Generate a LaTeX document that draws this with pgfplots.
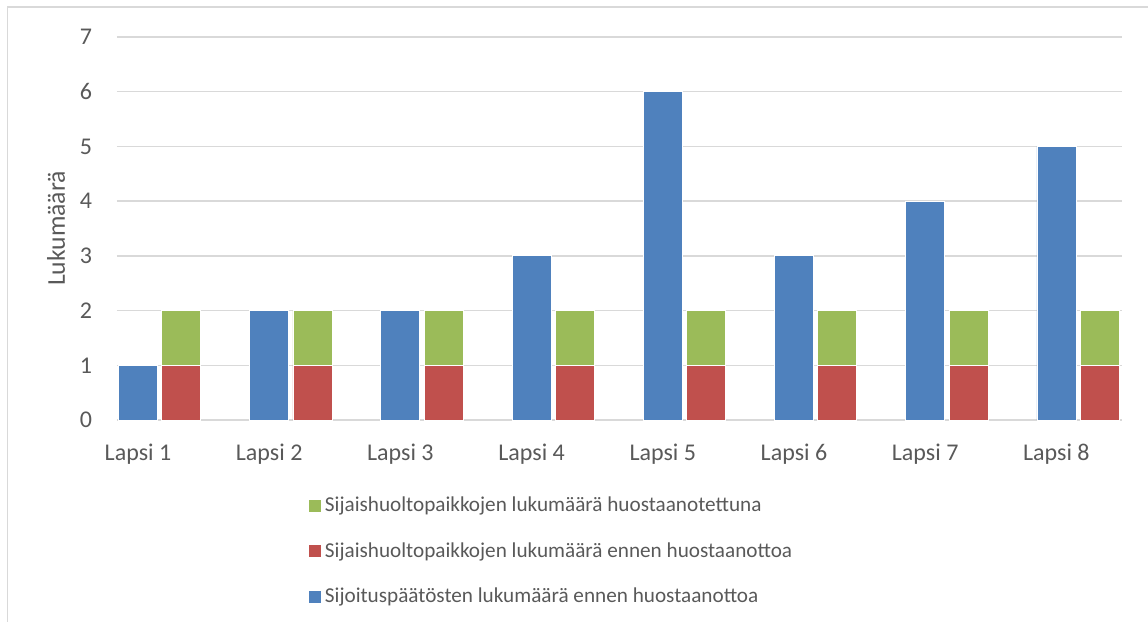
\documentclass[border=0pt]{standalone}
\usepackage{fontspec}
\setmainfont{Carlito}
\usepackage{pgfplots}
\pgfplotsset{compat=1.18}
\definecolor{sBlue}{HTML}{4F81BD}
\definecolor{sRed}{HTML}{C0504D}
\definecolor{sGreen}{HTML}{9BBB59}
\definecolor{txt}{HTML}{595959}
\definecolor{gridc}{HTML}{D9D9D9}

\pgfplotsset{
  base/.style={
    scale only axis, width=502.5pt, height=191.5pt,
    xmin=-0.16, xmax=7.5, ymin=0, ymax=7,
    bar width=19.5pt,
    axis line style={draw=none}, major tick length=0pt,
  },
}

\begin{document}
\begin{tikzpicture}
\path[use as bounding box] (-58.5pt,-101pt) rectangle (515.5pt,210pt);
\draw[gridc, line width=0.6pt] (-54.75pt,-101pt) -- (-54.75pt,206.5pt) -- (515.5pt,206.5pt);

% blue series, with grid and tick labels
\begin{axis}[base, ybar,
  ytick={0,1,...,7}, ymajorgrids, grid style={gridc, line width=0.7pt},
  xtick={0,...,7},
  xticklabels={Lapsi 1,Lapsi 2,Lapsi 3,Lapsi 4,Lapsi 5,Lapsi 6,Lapsi 7,Lapsi 8},
  /pgf/number format/assume math mode=true,
  tick label style={font=\fontsize{12}{14}\selectfont, text=txt},
  yticklabel style={xshift=-9pt},
  xticklabel style={yshift=-8.5pt},
  ylabel={Lukumäärä}, ylabel style={font=\fontsize{12.8}{15}\selectfont, text=txt, yshift=0.5pt},
]
\addplot[fill=sBlue, draw=white, line width=0.4pt, bar shift=0pt]
  coordinates {(0,1) (1,2) (2,2) (3,3) (4,6) (5,3) (6,4) (7,5)};
\end{axis}

% red + green stacked series, legend
\begin{axis}[base, ybar stacked, hide axis,
  reverse legend,
  legend cell align=left,
  legend style={draw=none, fill=none, at={(0.191,-0.19)}, anchor=north west,
    font=\fontsize{10.6}{12}\selectfont, text=txt, row sep=10pt,
    inner sep=0pt, outer sep=0pt},
  legend image code/.code={\fill[#1,draw=none] (0pt,-3pt) rectangle (6pt,3pt);},
]
\addlegendimage{fill=sBlue}
\addlegendentry{Sijoituspäätösten lukumäärä ennen huostaanottoa}
\addplot[fill=sRed, draw=white, line width=0.4pt, bar shift=0pt]
  coordinates {(0.33,1) (1.33,1) (2.33,1) (3.33,1) (4.33,1) (5.33,1) (6.33,1) (7.33,1)};
\addlegendentry{Sijaishuoltopaikkojen lukumäärä ennen huostaanottoa}
\addplot[fill=sGreen, draw=white, line width=0.4pt, bar shift=0pt]
  coordinates {(0.33,1) (1.33,1) (2.33,1) (3.33,1) (4.33,1) (5.33,1) (6.33,1) (7.33,1)};
\addlegendentry{Sijaishuoltopaikkojen lukumäärä huostaanotettuna}
\end{axis}
\end{tikzpicture}
\end{document}
